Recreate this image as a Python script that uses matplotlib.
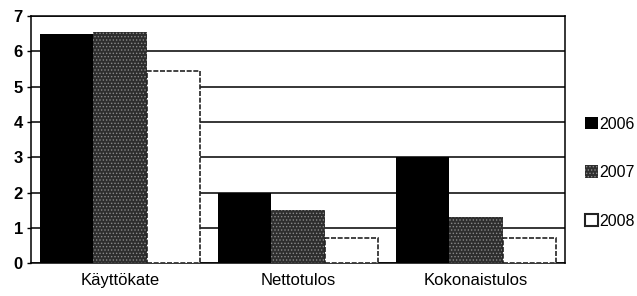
import numpy as np
import matplotlib.pyplot as plt
from matplotlib.patches import Patch

categories = ["Käyttökate", "Nettotulos", "Kokonaistulos"]
years = ["2006", "2007", "2008"]
v2006 = [6.5, 2.0, 3.0]
v2007 = [6.55, 1.5, 1.3]
v2008 = [5.45, 0.7, 0.7]

plt.rcParams['font.family'] = ['Liberation Sans', 'DejaVu Sans']
plt.rcParams['hatch.linewidth'] = 0.6

fig = plt.figure(figsize=(6.37, 2.96), dpi=100)
ax = fig.add_axes([0.049, 0.111, 0.838, 0.835])

x = np.arange(len(categories))
w = 0.3
ax.bar(x - w, v2006, w, color='black', zorder=3, label='2006')
ax.bar(x, v2007, w, color='#2e2e2e', edgecolor='#8a8a8a', hatch='.....',
       linewidth=0, zorder=3, label='2007')
ax.bar(x + w, v2008, w, facecolor='white', edgecolor='#222222',
       linestyle=(0, (3, 1)), linewidth=1.2, zorder=3, label='2008')

ax.set_xlim(-0.5, 2.5)
ax.set_ylim(0, 7)
ax.set_yticks(range(8))
ax.set_yticklabels([str(i) for i in range(8)], fontsize=12, fontweight='bold')
ax.set_xticks(x)
ax.set_xticklabels(categories, fontsize=12)
ax.tick_params(axis='x', length=0, pad=7)
ax.tick_params(axis='y', length=3, width=1, pad=3)
ax.yaxis.grid(True, color='black', linewidth=1.1, zorder=0)
for s in ax.spines.values():
    s.set_color('black')
    s.set_linewidth(1.1)

handles = [Patch(facecolor='black'),
           Patch(facecolor='#2e2e2e', edgecolor='#8a8a8a', hatch='.....', linewidth=0),
           Patch(facecolor='white', edgecolor='#222222', linewidth=1.5)]
fig.legend(handles, years, loc='center left', bbox_to_anchor=(0.918, 0.417),
           frameon=False, fontsize=11.5, handlelength=0.8, handleheight=0.8,
           handletextpad=0.1, labelspacing=2.1, borderpad=0, borderaxespad=0)

fig.savefig('out.png', dpi=100)
